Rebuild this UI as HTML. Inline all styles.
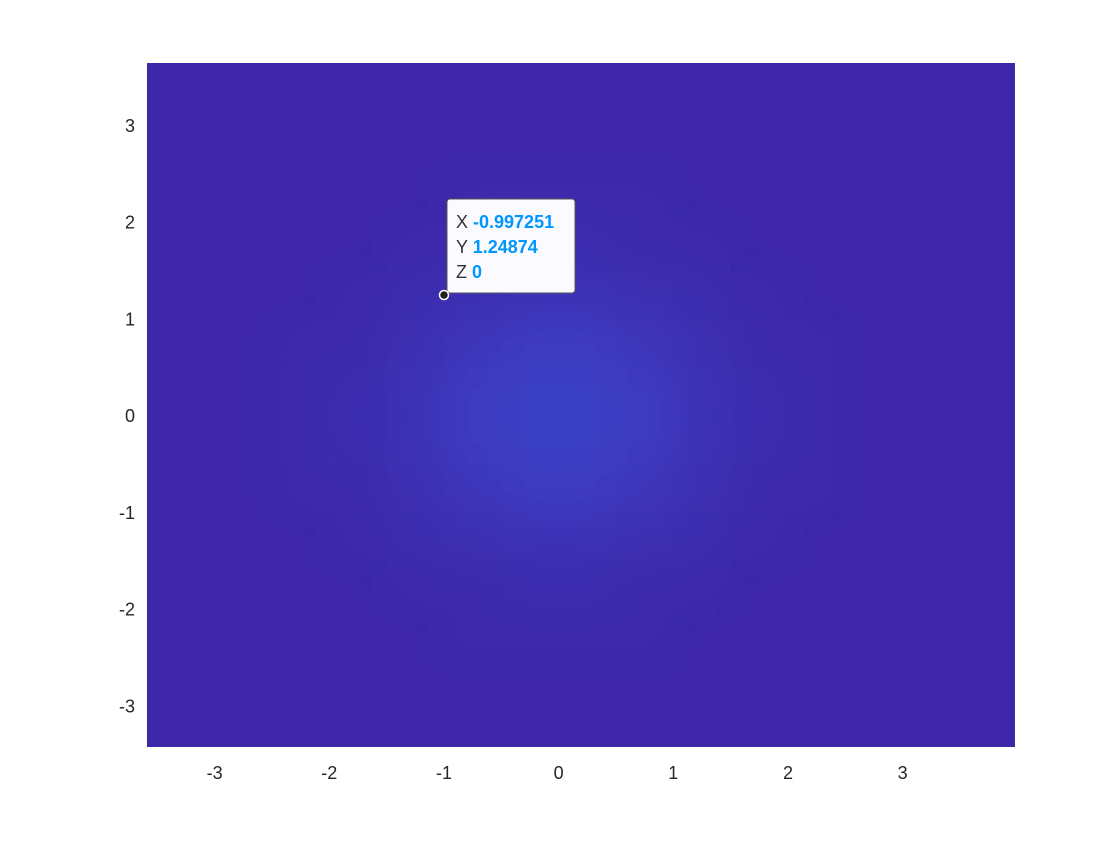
<!DOCTYPE html>
<html><head><meta charset="utf-8"><style>
body{margin:0;background:#fff;width:1120px;height:840px;overflow:hidden;font-family:"Liberation Sans",sans-serif}
</style></head><body>
<svg id="chart" width="1120" height="840" xmlns="http://www.w3.org/2000/svg">
<defs>
<clipPath id="clip"><rect x="147" y="63" width="868" height="684"/></clipPath>
<filter id="blur" x="-20%" y="-20%" width="140%" height="140%"><feGaussianBlur stdDeviation="22"/></filter>
</defs>
<rect x="147" y="63" width="868" height="684" fill="#3d26a8"/>
<g id="cells" clip-path="url(#clip)"><g id="cellsInner" filter="url(#blur)"></g></g>
<g id="axes"></g>
<g>
<rect x="447" y="199" width="128" height="94" rx="3" fill="#fbfbff" stroke="#555" stroke-width="1"/>
<text x="456" y="228" font-size="18" fill="#333">X <tspan fill="#0096ff" font-weight="bold">-0.997251</tspan></text>
<text x="456" y="253" font-size="18" fill="#333">Y <tspan fill="#0096ff" font-weight="bold">1.24874</tspan></text>
<text x="456" y="278" font-size="18" fill="#333">Z <tspan fill="#0096ff" font-weight="bold">0</tspan></text>
<circle cx="444" cy="295" r="4.5" fill="#222" stroke="#fff" stroke-width="1.5"/>
</g>
</svg>
<script>
const xTicks=[-3,-2,-1,0,1,2,3];
const yTicks=[-3,-2,-1,0,1,2,3];
const xMin=-3.59,xMax=3.98,yMin=-3.42,yMax=3.65;
const cellEdges=[-3.5,-3,-2.5,-2,-1.5,-1,-0.5,0,0.5,1,1.5,2,2.5,3,3.5];
// density rows from top (y=3.5) to bottom (y=-3.5)
const density=[
[0,0,0,0,0,0,0,0,0,0,0,0,0,0],
[0,0,0,0,0,0,0,0,0,0,0,0,0,0],
[0,0,0,0,0,1,1,1,1,0,0,0,0,0],
[0,0,0,0,1,1,2,2,1,1,0,0,0,0],
[0,0,0,1,2,3,4,4,3,2,1,0,0,0],
[0,0,1,1,3,5,7,7,5,3,1,1,0,0],
[0,0,1,2,4,7,8,8,7,4,2,1,0,0],
[0,0,1,2,4,7,8,8,7,4,2,1,0,0],
[0,0,1,1,3,5,7,7,5,3,1,1,0,0],
[0,0,0,1,2,3,4,4,3,2,1,0,0,0],
[0,0,0,0,1,1,2,2,1,1,0,0,0,0],
[0,0,0,0,0,1,1,1,1,0,0,0,0,0],
[0,0,0,0,0,0,0,0,0,0,0,0,0,0],
[0,0,0,0,0,0,0,0,0,0,0,0,0,0]];
const L=147,R=1015,T=63,B=747;
const sx=v=>L+(v-xMin)/(xMax-xMin)*(R-L);
const sy=v=>B-(v-yMin)/(yMax-yMin)*(B-T);
const NS="http://www.w3.org/2000/svg";
const cg=document.getElementById('cellsInner');
density.forEach((row,i)=>row.forEach((v,j)=>{
 if(!v)return;
 const y0=cellEdges[cellEdges.length-1-i],y1=cellEdges[cellEdges.length-2-i];
 const r=document.createElementNS(NS,'rect');
 
 
 r.setAttribute('x',sx(cellEdges[j]));r.setAttribute('y',sy(y0));
 r.setAttribute('width',sx(cellEdges[j+1])-sx(cellEdges[j]));r.setAttribute('height',sy(y1)-sy(y0));
 r.setAttribute('fill','#3a64ee');r.setAttribute('opacity',(v/8*0.4).toFixed(3));
 cg.appendChild(r);
}));
const ax=document.getElementById('axes');
function add(tag,attrs,txt){const e=document.createElementNS(NS,tag);for(const k in attrs)e.setAttribute(k,attrs[k]);if(txt!==undefined)e.textContent=txt;ax.appendChild(e);return e;}
xTicks.forEach(t=>{const x=sx(t);
 const tx=add('text',{x:x,y:B+32,'font-size':18,'text-anchor':'middle',fill:'#262626'},String(t));
 
 
});
yTicks.forEach(t=>{const y=sy(t);
 const tx=add('text',{x:L-12,y:y+6,'font-size':18,'text-anchor':'end',fill:'#262626'},String(t));
 
 
});
</script>
</body></html>
